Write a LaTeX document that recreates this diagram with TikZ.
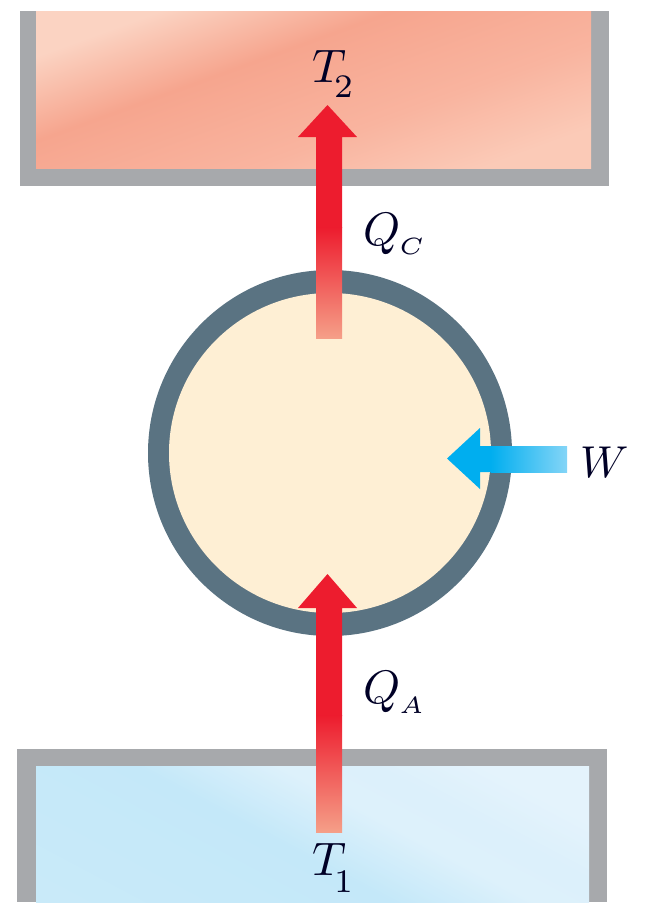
\documentclass[tikz,border=0pt]{standalone}
\usetikzlibrary{shadings}
\definecolor{wallgray}{HTML}{A7A9AC}
\definecolor{heatred}{HTML}{ED1C2E}
\definecolor{heatpale}{HTML}{F59F88}
\definecolor{ringblue}{HTML}{5A7382}
\definecolor{cream}{HTML}{FEEFD4}
\definecolor{workblue}{HTML}{00AEEF}
\definecolor{workpale}{HTML}{84D5F7}
\pgfdeclarehorizontalshading{hotres}{100bp}{rgb(0bp)=(.984,.827,.761);
 rgb(26bp)=(.984,.827,.761);rgb(41bp)=(.965,.647,.557);rgb(60bp)=(.976,.706,.624);rgb(75bp)=(.984,.792,.718);rgb(100bp)=(.984,.792,.718)}
\pgfdeclarehorizontalshading{coldres}{100bp}{rgb(0bp)=(.804,.922,.980);
 rgb(28bp)=(.78,.915,.976);rgb(46bp)=(.769,.910,.976);rgb(58bp)=(.867,.945,.984);rgb(66bp)=(.863,.941,.984);rgb(75bp)=(.894,.953,.988);rgb(100bp)=(.894,.953,.988)}
\newcommand{\labT}[2]{$T$\kern-2.5pt\lower#2\hbox{$\scriptstyle #1$}}
\newcommand{\labQ}[2]{$Q$\kern-0.2pt\lower#2\hbox{$\scriptscriptstyle #1$}}
\tikzset{
  wall/.style={fill=wallgray},
  heat/.style={fill=heatred},
  work/.style={fill=workblue},
  lbl/.style={inner sep=0pt,outer sep=0pt,text=black!85!blue,scale=4.7}
}
\begin{document}
\begin{tikzpicture}[x=1pt,y=-1pt]
\useasboundingbox (0,0) rectangle (645,903);
% hot reservoir
\fill[wall] (20,11) rectangle (609,186);
\shade[shading=hotres,shading angle=-70] (36,11) rectangle (591,168);
% cold reservoir
\fill[wall] (17,749) rectangle (607,902);
\shade[shading=coldres,shading angle=62] (36,766) rectangle (589,902);
% device
\fill[ringblue] (330,453) ellipse [x radius=182,y radius=183];
\fill[cream] (330,453) ellipse [x radius=161,y radius=160];
% upper heat arrow
\fill[heat] (327.5,105) -- (357,137) -- (342,137) -- (342,228) -- (316,228) -- (316,137) -- (298,137) -- cycle;
\shade[top color=heatred,bottom color=heatpale] (316,227.5) rectangle (342,338);
% lower heat arrow
\fill[heat] (327.5,574) -- (357,608) -- (342,608) -- (342,716) -- (316,716) -- (316,608) -- (298,608) -- cycle;
\shade[top color=heatred,bottom color=heatpale] (316,715.5) rectangle (342,832);
% work arrow
\fill[work] (447,458.5) -- (480,428) -- (480,446) -- (491,446) -- (491,472) -- (480,472) -- (480,489) -- cycle;
\shade[left color=workblue,right color=workpale] (490.5,446) rectangle (567,472);
% labels
\node[lbl,anchor=base west] (t2) at (312,82) {\labT{2}{3.4pt}};
\node[lbl,anchor=base west] (t1) at (312,875) {\labT{1}{3.8pt}};
\node[lbl,anchor=base west] (qc) at (363,245) {\labQ{C}{2.1pt}};
\node[lbl,anchor=base west] (qa) at (363,703) {\labQ{A}{2.3pt}};
\node[lbl,anchor=base west,scale=0.95] (w) at (580,477) {$W$};
\end{tikzpicture}
\end{document}
